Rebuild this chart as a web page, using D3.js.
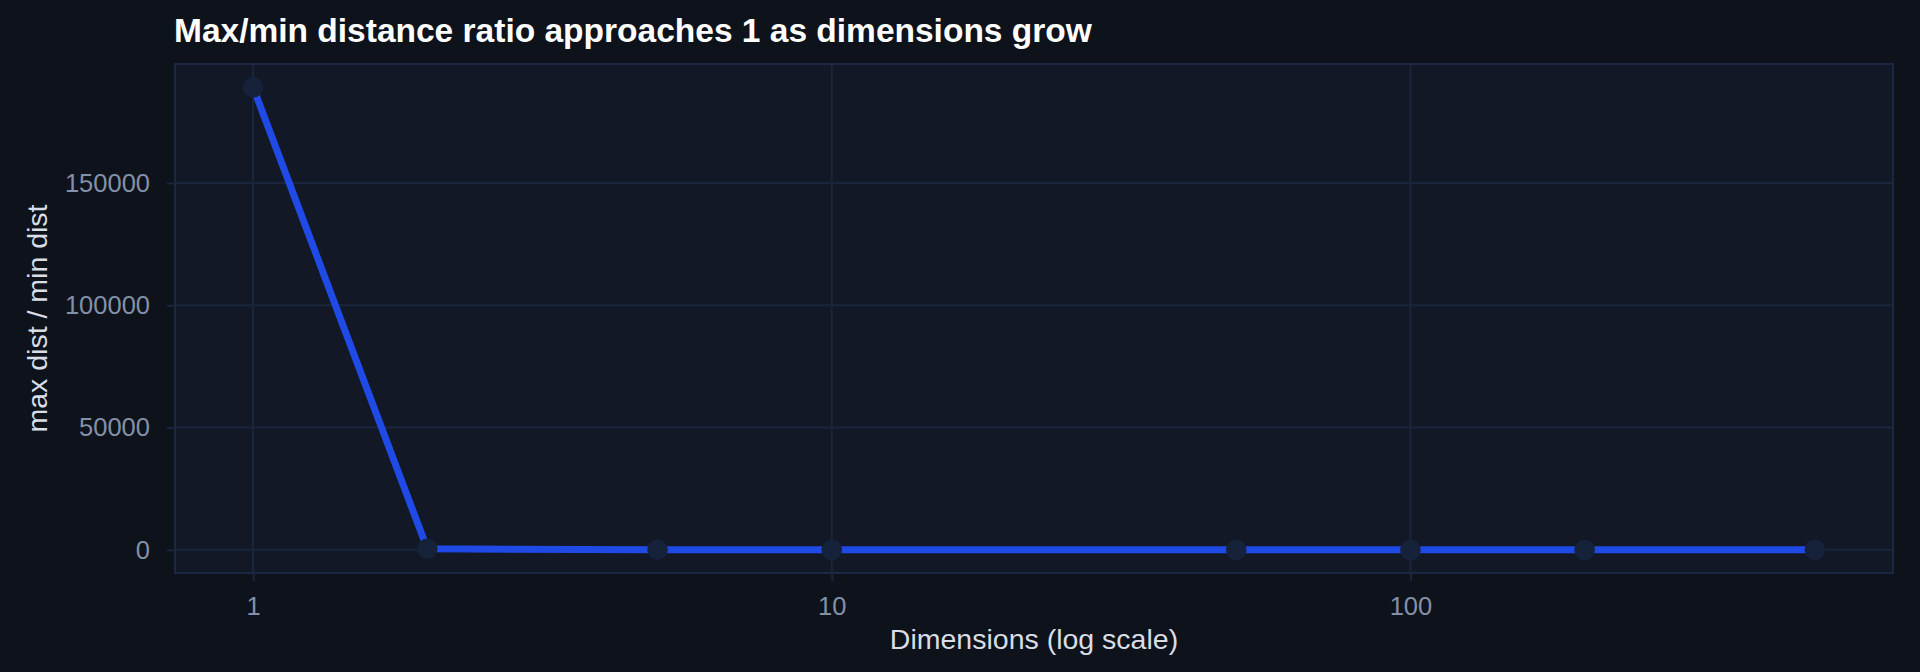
<!DOCTYPE html>
<html>
<head>
<meta charset="utf-8">
<script src="https://cdn.jsdelivr.net/npm/d3@7"></script>
<style>
  html, body { margin: 0; padding: 0; background: #0e121b; }
  svg { display: block; }
  text { font-family: "Liberation Sans", Arial, Helvetica, sans-serif; }
</style>
</head>
<body>
<svg id="chart" width="1920" height="672"></svg>
<script>
// ---- data ----
const dimensions = [1, 2, 5, 10, 50, 100, 200, 500];
const ratios = [189200, 420, 21, 6.2, 2.1, 1.65, 1.42, 1.26];
const xTicks = [1, 10, 100];
const yTicks = [0, 50000, 100000, 150000];
const chartTitle = "Max/min distance ratio approaches 1 as dimensions grow";
const xTitle = "Dimensions (log scale)";
const yTitle = "max dist / min dist";

// ---- layout ----
const W = 1920, H = 672;
const panel = { left: 175, right: 1893, top: 64, bottom: 573 };

const svg = d3.select("#chart");
svg.append("rect").attr("width", W).attr("height", H).attr("fill", "#0e121b");

// scales with 5% expansion like ggplot
const lx = d3.extent(dimensions, d => Math.log10(d));
const ex = (lx[1] - lx[0]) * 0.05;
const x = d3.scaleLog()
  .domain([Math.pow(10, lx[0] - ex), Math.pow(10, lx[1] + ex)])
  .range([panel.left, panel.right]);
const ye = d3.extent(ratios);
const ey = (ye[1] - ye[0]) * 0.05;
const y = d3.scaleLinear()
  .domain([ye[0] - ey, ye[1] + ey])
  .range([panel.bottom, panel.top]);

const gridColor = "#1b263d";

// panel
svg.append("rect")
  .attr("x", panel.left).attr("y", panel.top)
  .attr("width", panel.right - panel.left).attr("height", panel.bottom - panel.top)
  .attr("fill", "#121826");

// grid
const grid = svg.append("g");
grid.selectAll("line.h").data(yTicks).join("line")
  .attr("x1", panel.left).attr("x2", panel.right)
  .attr("y1", d => y(d)).attr("y2", d => y(d))
  .attr("stroke", gridColor).attr("stroke-width", 2);
grid.selectAll("line.v").data(xTicks).join("line")
  .attr("y1", panel.top).attr("y2", panel.bottom)
  .attr("x1", d => x(d)).attr("x2", d => x(d))
  .attr("stroke", gridColor).attr("stroke-width", 2);

// panel border
svg.append("rect")
  .attr("x", panel.left).attr("y", panel.top)
  .attr("width", panel.right - panel.left).attr("height", panel.bottom - panel.top)
  .attr("fill", "none").attr("stroke", "#1c2842").attr("stroke-width", 2);

// axes
const xAxis = d3.axisBottom(x).tickValues(xTicks).tickFormat(d3.format("d"))
  .tickSizeInner(8).tickSizeOuter(0).tickPadding(16);
const gx = svg.append("g").attr("transform", `translate(0,${panel.bottom})`).call(xAxis);
gx.select(".domain").remove();
gx.selectAll(".tick line").attr("stroke", gridColor).attr("stroke-width", 2);
gx.selectAll(".tick text").attr("fill", "#8391a8").attr("font-size", 25.5)
  .attr("font-family", '"Liberation Sans", Arial, Helvetica, sans-serif');

const yAxis = d3.axisLeft(y).tickValues(yTicks).tickFormat(d3.format("d"))
  .tickSizeInner(8).tickSizeOuter(0).tickPadding(17);
const gy = svg.append("g").attr("transform", `translate(${panel.left},0)`).call(yAxis);
gy.select(".domain").remove();
gy.selectAll(".tick line").attr("stroke", gridColor).attr("stroke-width", 2);
gy.selectAll(".tick text").attr("fill", "#8391a8").attr("font-size", 25.5)
  .attr("font-family", '"Liberation Sans", Arial, Helvetica, sans-serif');

// line
const pts = dimensions.map((d, i) => ({ d, v: ratios[i] }));
svg.append("path")
  .datum(pts)
  .attr("fill", "none")
  .attr("stroke", "#1f4ae6")
  .attr("stroke-width", 7)
  .attr("stroke-linejoin", "round")
  .attr("d", d3.line().x(p => x(p.d)).y(p => y(p.v)));

// points
svg.selectAll("circle.pt").data(pts).join("circle")
  .attr("class", "pt")
  .attr("cx", p => x(p.d)).attr("cy", p => y(p.v))
  .attr("r", 10.3)
  .attr("fill", "#16213a");

// titles
svg.append("text")
  .attr("x", 174).attr("y", 42)
  .attr("fill", "#ffffff").attr("font-size", 33.5).attr("font-weight", "bold")
  .text(chartTitle);

svg.append("text")
  .attr("x", (panel.left + panel.right) / 2).attr("y", 649)
  .attr("text-anchor", "middle")
  .attr("fill", "#d8dde6").attr("font-size", 28.5)
  .text(xTitle);

svg.append("text")
  .attr("transform", `translate(47,${(panel.top + panel.bottom) / 2}) rotate(-90)`)
  .attr("text-anchor", "middle")
  .attr("fill", "#d8dde6").attr("font-size", 28.5)
  .text(yTitle);
</script>
</body>
</html>
